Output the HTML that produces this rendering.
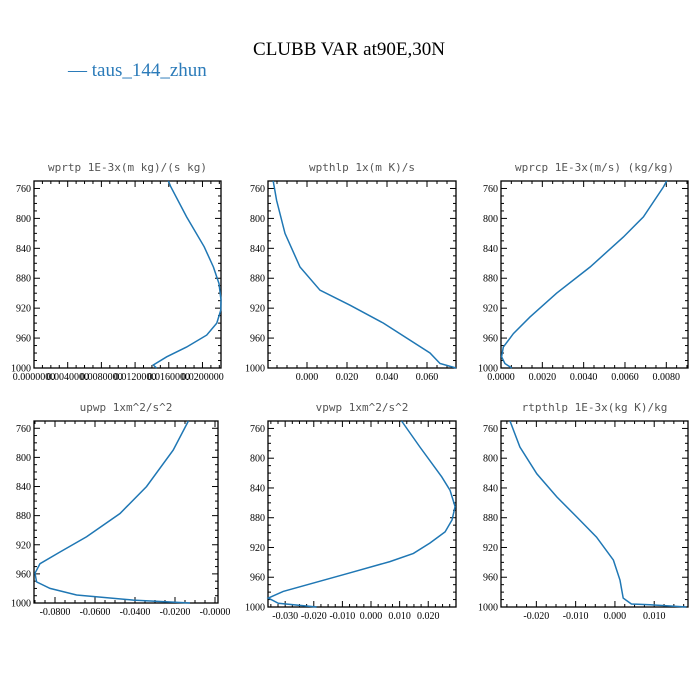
<!DOCTYPE html>
<html><head><meta charset="utf-8"><style>
body{margin:0;background:#fff;}
svg{display:block;}
.tl{font-family:"Liberation Serif",serif;font-size:10px;fill:#000;}
.pt{font-family:"DejaVu Sans Mono","Liberation Mono",monospace;font-size:11px;fill:#555;}
</style></head><body>
<svg id="chart" width="700" height="700" viewBox="0 0 700 700" xmlns="http://www.w3.org/2000/svg">
<text x="349" y="55" text-anchor="middle" font-family="Liberation Serif,serif" font-size="19" fill="#000">CLUBB VAR at90E,30N</text>
<text x="68" y="76" font-family="Liberation Serif,serif" font-size="19" fill="#2b7bb9">— taus_144_zhun</text>
</svg>
<script>
// shared pressure levels per panel and series values
const p1 = [750,757,798,838,865,887,909,923,940,956,972,985,996,1000];
const v1 = [0.01595,0.0162,0.01812,0.0202,0.0213,0.02196,0.0222,0.02216,0.0217,0.0205,0.0181,0.01575,0.01416,0.01456];
const p2 = [750,776,820,865,896,916,940,980,994,1000];
const v2 = [-0.0169,-0.0152,-0.011,-0.0035,0.0065,0.0215,0.0382,0.0615,0.0665,0.0745];
const p3 = [750,758,798,825,865,900,932,954,972,985,994,1000];
const v3 = [0.00802,0.00786,0.00689,0.00592,0.00431,0.00269,0.0014,0.0006,0.00011,0.00003,0.00019,0.00052];
const p4 = [750,790,840,877,909,930,946,959,971,980,989,996,1000];
const v4 = [-0.0133,-0.0209,-0.0342,-0.0475,-0.0642,-0.0775,-0.0875,-0.09,-0.0892,-0.0825,-0.0692,-0.0408,-0.0125];
const p5 = [750,785,825,843,865,883,899,914,928,939,954,979,988,995,1000];
const v5 = [0.0107,0.0171,0.0247,0.0276,0.0294,0.0283,0.0259,0.0206,0.0148,0.0066,-0.0073,-0.0307,-0.0359,-0.0324,-0.019];
const p6 = [750,785,821,852,879,906,937,964,988,996,997,1000];
const v6 = [-0.0267,-0.0242,-0.0199,-0.0148,-0.0097,-0.0047,-0.0004,0.0013,0.0021,0.0042,0.0089,0.0182];
const yTicks = [760,800,840,880,920,960,1000];
const titles = ["wprtp  1E-3x(m kg)/(s kg)","wpthlp  1x(m K)/s","wprcp  1E-3x(m/s) (kg/kg)","upwp  1xm^2/s^2","vpwp  1xm^2/s^2","rtpthlp  1E-3x(kg K)/kg"];
const xt1 = [0,0.004,0.008,0.012,0.016,0.02];
const xt2 = [0,0.02,0.04,0.06];
const xt3 = [0,0.002,0.004,0.006,0.008];
const xt4 = [-0.08,-0.06,-0.04,-0.02,0];
const xt5 = [-0.03,-0.02,-0.01,0,0.01,0.02];
const xt6 = [-0.02,-0.01,0,0.01];
const panels = [
 {x0:34,x1:221,y0:181,y1:368,xmin:0,xmax:0.0222,p:p1,v:v1,ticks:xt1,step:0.004,dec:7,yb:1000},
 {x0:268,x1:456,y0:181,y1:368,xmin:-0.0195,xmax:0.0745,p:p2,v:v2,ticks:xt2,step:0.02,dec:3,yb:1000},
 {x0:501,x1:688,y0:181,y1:368,xmin:0,xmax:0.00905,p:p3,v:v3,ticks:xt3,step:0.002,dec:4,yb:1000},
 {x0:34,x1:218,y0:421,y1:603,xmin:-0.0905,xmax:0.0015,p:p4,v:v4,ticks:xt4,step:0.02,dec:4,yb:1000},
 {x0:268,x1:456,y0:421,y1:607,xmin:-0.036,xmax:0.0297,p:p5,v:v5,ticks:xt5,step:0.01,dec:3,yb:1000},
 {x0:501,x1:688,y0:421,y1:607,xmin:-0.029,xmax:0.0186,p:p6,v:v6,ticks:xt6,step:0.01,dec:3,yb:1000}
];
const NS="http://www.w3.org/2000/svg";
const svg=document.getElementById('chart');
function mk(tag,attrs,parent){const e=document.createElementNS(NS,tag);for(const k in attrs)e.setAttribute(k,attrs[k]);(parent||svg).appendChild(e);return e;}
panels.forEach((P,i)=>{
 const g=mk('g',{});
 
 
 // y axis: 760 at fixed position, bottom 1000
 const y760 = P.y0 + (P.y1-P.y0)*(10/250);
 const yS=p=> y760 + (p-760)*(P.y1-y760)/240;
 const xS=v=> P.x0 + (v-P.xmin)/(P.xmax-P.xmin)*(P.x1-P.x0);
 const t=mk('text',{x:(P.x0+P.x1)/2,y:P.y0-10,'text-anchor':'middle','class':'pt','xml:space':'preserve'},g);
 t.textContent=titles[i];
 
 
 const fr=mk('rect',{x:P.x0,y:P.y0,width:P.x1-P.x0,height:P.y1-P.y0,fill:'none',stroke:'#000','stroke-width':1.3},g);
 
 
 // y ticks
 for(let p=760;p<=1000;p+=10){
  const y=yS(p);const maj=(p-760)%40===0;const L=maj?6:3;
  mk('line',{x1:P.x0,x2:P.x0+L,y1:y,y2:y,stroke:'#000','stroke-width':1},g);
  mk('line',{x1:P.x1,x2:P.x1-L,y1:y,y2:y,stroke:'#000','stroke-width':1},g);
 }
 yTicks.forEach(p=>{
  const tt=mk('text',{x:P.x0-3,y:yS(p)+3.5,'text-anchor':'end','class':'tl'},g);
  tt.textContent=p;
  
  
 });
 // x ticks
 const ms=P.step/4;
 for(let k=Math.ceil(P.xmin/ms);k*ms<=P.xmax;k++){
  const v=k*ms;const x=xS(v);const maj=(k%4===0);const L=maj?6:3;
  mk('line',{x1:x,x2:x,y1:P.y1,y2:P.y1-L,stroke:'#000','stroke-width':1},g);
  mk('line',{x1:x,x2:x,y1:P.y0,y2:P.y0+L,stroke:'#000','stroke-width':1},g);
 }
 P.ticks.forEach(v=>{
  const tt=mk('text',{x:xS(v),y:P.y1+12,'text-anchor':'middle','class':'tl'},g);
  tt.textContent=(v===0&&i===3?'-':'')+v.toFixed(P.dec);
  
  
 });
 const d=P.p.map((p,j)=>(j?'L':'M')+xS(P.v[j]).toFixed(1)+','+yS(p).toFixed(1)).join('');
 const ln=mk('path',{d:d,fill:'none',stroke:'#1f77b4','stroke-width':1.5},g);
 
 
});
</script>
</body></html>
